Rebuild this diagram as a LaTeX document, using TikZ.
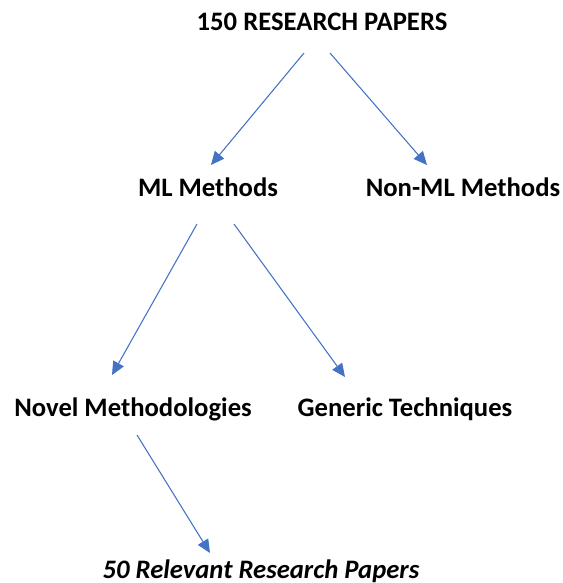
\documentclass[tikz,border=0pt]{standalone}
\usepackage{fontspec}
\setmainfont{Carlito}
\usepackage{tikz}
\usetikzlibrary{arrows.meta}
\usetikzlibrary{calc}
\definecolor{arrowblue}{HTML}{4472C4}

\begin{document}
\begin{tikzpicture}[x=0.75pt, y=-0.75pt,
        lbl/.style={anchor=base, inner sep=0pt, font=\fontsize{20}{24}\selectfont\bfseries},
        arr/.style={draw=arrowblue, line width=0.8pt, -{Triangle[length=10pt, width=9pt]}}]
        \useasboundingbox (0,0) rectangle (563,583);
        \node[lbl] (papers) at (322, 30) {150 RESEARCH PAPERS};
        \node[lbl] (ml) at (208, 196) {ML Methods};
        \node[lbl] (nonml) at (463, 196) {Non-ML Methods};
        \node[lbl] (novel) at (133, 416) {Novel Methodologies};
        \node[lbl] (generic) at (405, 416) {Generic Techniques};
        \node[lbl, font=\fontsize{20}{24}\selectfont\bfseries\itshape] (relevant) at (261, 578) {50 Relevant Research Papers};
        \draw[arr] ($(papers.base)+(-18,23)$) -- ($(ml.base)+(3,-31)$);
        \draw[arr] ($(papers.base)+(8,23)$) -- ($(nonml.base)+(-36,-31)$);
        \draw[arr] ($(ml.base)+(-11,28)$) -- ($(novel.base)+(-21,-41)$);
        \draw[arr] ($(ml.base)+(26,28)$) -- ($(generic.base)+(-60,-39)$);
        \draw[arr] ($(novel.base)+(4,19)$) -- ($(relevant.base)+(-51,-25)$);
        \end{tikzpicture}
\end{document}
